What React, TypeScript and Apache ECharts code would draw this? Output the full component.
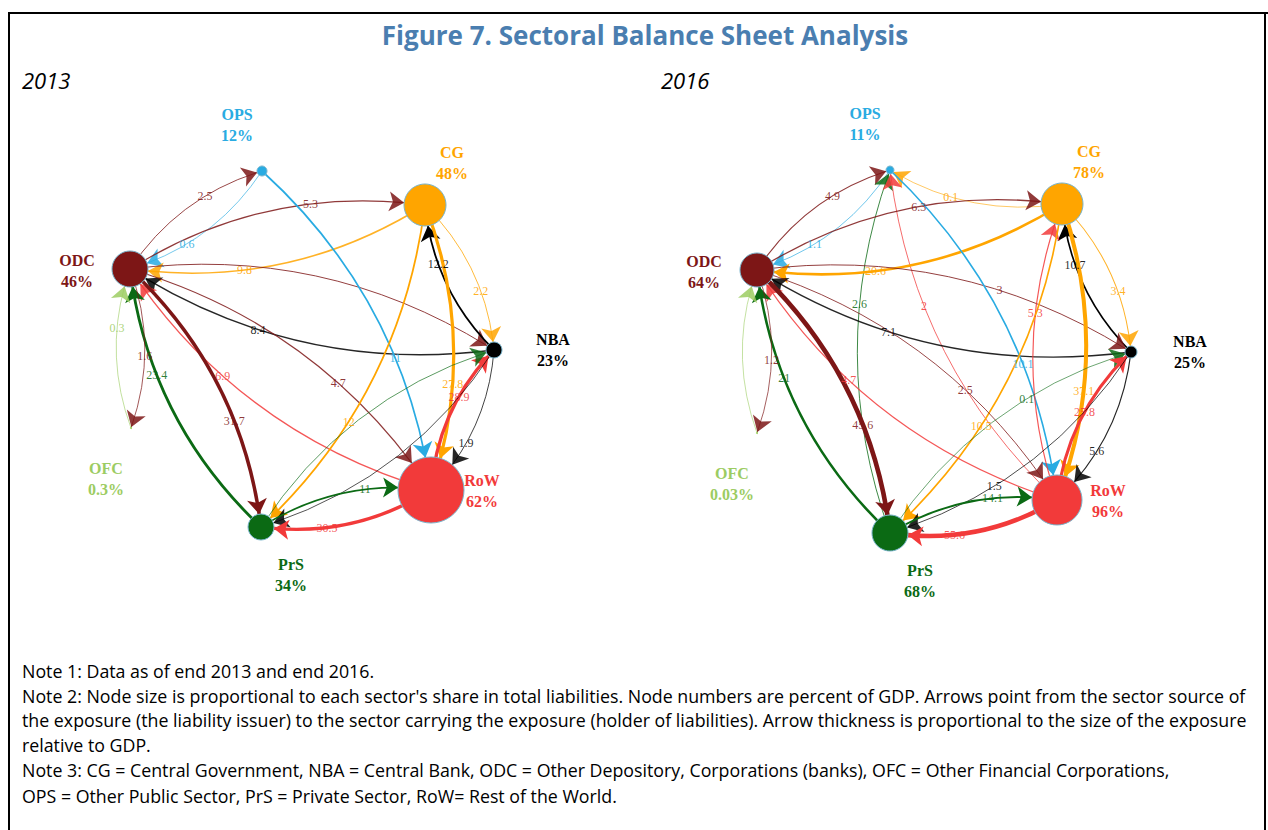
import React, { useEffect, useRef } from "react";
import * as echarts from "echarts";

// ---------- DATA ----------
const sectors = ["ODC", "OPS", "CG", "NBA", "RoW", "PrS", "OFC"];

// node numbers (percent of GDP)
const gdpShare2013 = ["46", "12", "48", "23", "62", "34", "0.3"];
const gdpShare2016 = ["64", "11", "78", "25", "96", "68", "0.03"];

// relative share in total liabilities (drives node size)
const liabWeight2013 = [36, 10, 42, 16, 66, 26, 2];
const liabWeight2016 = [34, 8, 42, 12, 50, 36, 2];

// node placement on the circular layout (chart coordinates)
const layout2013 = [
  [130, 269], [262, 171], [425, 205], [494, 350], [431, 490], [261, 527], [131, 428],
];
const layout2016 = [
  [757, 270], [890, 170], [1062, 204], [1131, 352], [1057, 500], [890, 533], [757, 433],
];

// exposures: [issuer (source), holder (target), value % GDP, label shown]
const exposures2013: [string, string, number, boolean][] = [
  ["ODC", "OPS", 2.5, true],
  ["OPS", "ODC", 0.6, true],
  ["ODC", "CG", 5.3, true],
  ["CG", "ODC", 9.8, true],
  ["ODC", "NBA", 3.0, false],
  ["NBA", "ODC", 8.4, true],
  ["ODC", "RoW", 4.7, true],
  ["RoW", "ODC", 6.9, true],
  ["ODC", "PrS", 31.7, true],
  ["PrS", "ODC", 23.4, true],
  ["ODC", "OFC", 1.6, true],
  ["OFC", "ODC", 0.3, true],
  ["OPS", "RoW", 11, true],
  ["CG", "NBA", 2.2, true],
  ["NBA", "CG", 12.2, true],
  ["CG", "RoW", 27.8, true],
  ["CG", "PrS", 12, true],
  ["RoW", "NBA", 28.9, true],
  ["NBA", "RoW", 1.9, true],
  ["PrS", "NBA", 1.0, false],
  ["NBA", "PrS", 1.0, false],
  ["PrS", "RoW", 11, true],
  ["RoW", "PrS", 30.5, true],
];

const exposures2016: [string, string, number, boolean][] = [
  ["ODC", "OPS", 4.9, true],
  ["OPS", "ODC", 1.1, true],
  ["CG", "OPS", 0.1, true],
  ["PrS", "OPS", 2.6, true],
  ["RoW", "OPS", 2, true],
  ["ODC", "CG", 6.3, true],
  ["CG", "ODC", 20.6, true],
  ["NBA", "CG", 10.7, true],
  ["CG", "NBA", 3.4, true],
  ["ODC", "NBA", 3, true],
  ["NBA", "ODC", 7.1, true],
  ["OPS", "RoW", 10.1, true],
  ["RoW", "CG", 5.3, true],
  ["CG", "RoW", 37.1, true],
  ["CG", "PrS", 10.5, true],
  ["ODC", "RoW", 2.5, true],
  ["RoW", "ODC", 4.7, true],
  ["ODC", "PrS", 45.6, true],
  ["PrS", "ODC", 21, true],
  ["ODC", "OFC", 1.2, true],
  ["OFC", "ODC", 0.03, false],
  ["PrS", "NBA", 0.1, true],
  ["RoW", "NBA", 25.8, true],
  ["NBA", "RoW", 5.6, true],
  ["NBA", "PrS", 1.5, true],
  ["PrS", "RoW", 14.1, true],
  ["RoW", "PrS", 55.6, true],
];

const titleText = "Figure 7. Sectoral Balance Sheet Analysis";
const panelTitles = ["2013", "2016"];
const noteLines = [
  "Note 1: Data as of end 2013 and end 2016.",
  "Note 2: Node size is proportional to each sector's share in total liabilities. Node numbers are percent of GDP. Arrows point from the sector source of",
  "the exposure (the liability issuer) to the sector carrying the exposure (holder of liabilities). Arrow thickness is proportional to the size of the exposure",
  "relative to GDP.",
  "Note 3: CG = Central Government, NBA = Central Bank, ODC = Other Depository, Corporations (banks), OFC = Other Financial Corporations,",
  "OPS = Other Public Sector, PrS = Private Sector, RoW= Rest of the World.",
];

// ---------- STYLE ----------
const W = 1268;
const H = 830;
const CURV = 0.18;
const LABEL_T_CANDIDATES = [0.63, 0.55, 0.71, 0.47, 0.79, 0.4];
const SERIF = "'Liberation Serif', 'Times New Roman', serif";
const SANS = "'Open Sans', 'Noto Sans', sans-serif";

const sectorColor: Record<string, string> = {
  ODC: "#7d1616",
  OPS: "#29abe2",
  CG: "#ffa500",
  NBA: "#000000",
  RoW: "#f23a3a",
  PrS: "#0b6a14",
  OFC: "#9ccc62",
};
const labelOffset: Record<string, number[]> = {
  ODC: [-53, 2],
  OPS: [-25, -46],
  CG: [27, -42],
  NBA: [59, 0],
  RoW: [51, 1],
  PrS: [30, 48],
  OFC: [-25, 51],
};

function lineWidth(v: number) {
  return Math.min(0.7 + v * 0.09, 4.6);
}

function bezierAt(p1: number[], p2: number[], t: number) {
  const cp = [
    (p1[0] + p2[0]) / 2 - (p1[1] - p2[1]) * CURV,
    (p1[1] + p2[1]) / 2 - (p2[0] - p1[0]) * CURV,
  ];
  const a = (1 - t) * (1 - t);
  const b = 2 * t * (1 - t);
  const c = t * t;
  return [a * p1[0] + b * cp[0] + c * p2[0], a * p1[1] + b * cp[1] + c * p2[1]];
}

function buildPanel(
  layout: number[][],
  shares: string[],
  weights: number[],
  exposures: [string, string, number, boolean][]
) {
  const nodes = sectors.map((s, i) => ({
    name: s,
    value: layout[i],
    symbolSize: weights[i],
    itemStyle: {
      color: sectorColor[s],
      borderColor: "#78b4cc",
      borderWidth: weights[i] > 4 ? 1 : 0,
    },
    label: {
      show: true,
      position: "inside",
      offset: labelOffset[s],
      formatter: `${s}\n${shares[i]}%`,
      color: sectorColor[s],
      fontFamily: SERIF,
      fontWeight: "bold",
      fontSize: 16,
      lineHeight: 21,
      align: "center",
    },
  }));
  const links = exposures.map(([src, tgt, v]) => {
    const w = lineWidth(v);
    return {
      source: src,
      target: tgt,
      value: v,
      lineStyle: {
        color: sectorColor[src],
        width: w,
        curveness: CURV,
        opacity: w < 1.6 ? 0.85 : 1,
      },
    };
  });
  // place labels along each curve, nudging along the curve to avoid collisions
  const placed: { x: number; y: number; w: number; h: number }[] = [];
  const labels = exposures
    .filter((e) => e[3])
    .map(([src, tgt, v]) => {
      const p1 = layout[sectors.indexOf(src)];
      const p2 = layout[sectors.indexOf(tgt)];
      const text = String(v);
      const bw = text.length * 6 + 2;
      const bh = 11;
      let best = bezierAt(p1, p2, LABEL_T_CANDIDATES[0]);
      for (const t of LABEL_T_CANDIDATES) {
        const pt = bezierAt(p1, p2, t);
        const hit = placed.some(
          (b) => Math.abs(b.x - pt[0]) < (b.w + bw) / 2 && Math.abs(b.y - pt[1]) < (b.h + bh) / 2
        );
        if (!hit) {
          best = pt;
          break;
        }
      }
      placed.push({ x: best[0], y: best[1], w: bw, h: bh });
      return {
        value: [best[0], best[1], v],
        label: { color: sectorColor[src] },
      };
    });
  return { nodes, links, labels };
}

export default function App() {
  const ref = useRef<HTMLDivElement>(null);
  useEffect(() => {
    if (!ref.current) return;
    const chart = echarts.init(ref.current, undefined, { renderer: "svg" });
    const p13 = buildPanel(layout2013, gdpShare2013, liabWeight2013, exposures2013);
    const p16 = buildPanel(layout2016, gdpShare2016, liabWeight2016, exposures2016);

    const graphSeries = (p: any) => ({
      type: "graph",
      coordinateSystem: "cartesian2d",
      xAxisIndex: 0,
      yAxisIndex: 0,
      layout: "none",
      silent: true,
      edgeSymbol: ["none", "arrow"],
      edgeSymbolSize: [0, 15],
      data: p.nodes,
      links: p.links,
      emphasis: { disabled: true },
      z: 2,
    });
    const labelSeries = (p: any) => ({
      type: "scatter",
      xAxisIndex: 0,
      yAxisIndex: 0,
      symbolSize: 0,
      silent: true,
      z: 3,
      data: p.labels,
      label: {
        show: true,
        position: "inside",
        formatter: (d: any) => String(d.value[2]),
        fontFamily: SERIF,
        fontSize: 12,
        opacity: 0.85,
      },
      emphasis: { disabled: true },
    });

    const graphic: any[] = [
      { type: "line", shape: { x1: 8, y1: 13, x2: W, y2: 13 }, style: { stroke: "#000", lineWidth: 2 } },
      { type: "line", shape: { x1: 9, y1: 12, x2: 9, y2: H }, style: { stroke: "#000", lineWidth: 2 } },
      { type: "line", shape: { x1: 1265, y1: 12, x2: 1265, y2: H }, style: { stroke: "#000", lineWidth: 2 } },
      {
        type: "text",
        x: 645,
        y: 35,
        style: {
          text: titleText,
          fill: "#4a7eb0",
          font: `bold 26px ${SANS}`,
          align: "center",
          verticalAlign: "middle",
        },
      },
      {
        type: "text",
        x: 22,
        y: 80,
        style: { text: panelTitles[0], fill: "#000", font: `italic 22px ${SANS}`, verticalAlign: "middle" },
      },
      {
        type: "text",
        x: 661,
        y: 80,
        style: { text: panelTitles[1], fill: "#000", font: `italic 22px ${SANS}`, verticalAlign: "middle" },
      },
    ];
    const noteY = [671, 696, 720, 745, 770, 796];
    noteLines.forEach((tx, i) => {
      graphic.push({
        type: "text",
        x: 22,
        y: noteY[i],
        style: { text: tx, fill: "#000", font: `17.8px ${SANS}`, verticalAlign: "middle" },
      });
    });

    chart.setOption({
      animation: false,
      backgroundColor: "#ffffff",
      grid: { left: 0, top: 0, right: 0, bottom: 0, containLabel: false },
      xAxis: { type: "value", min: 0, max: W, show: false },
      yAxis: { type: "value", min: 0, max: H, inverse: true, show: false },
      graphic,
      series: [graphSeries(p13), graphSeries(p16), labelSeries(p13), labelSeries(p16)],
    });
    return () => chart.dispose();
  }, []);
  return (
    <div
      ref={ref}
      style={{ position: "fixed", left: 0, top: 0, width: W, height: H, background: "#fff" }}
    />
  );
}
